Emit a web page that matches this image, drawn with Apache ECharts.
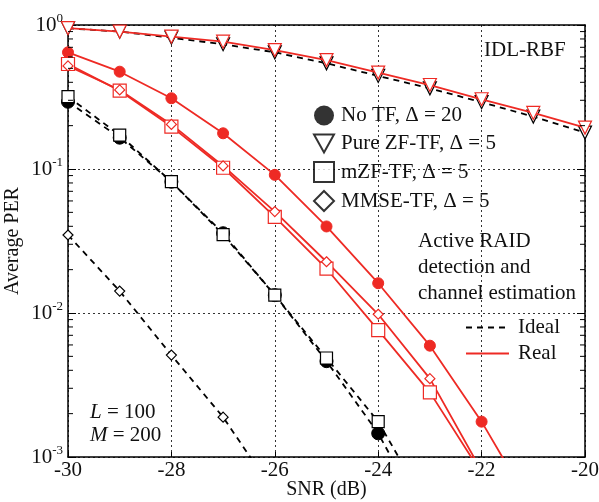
<!DOCTYPE html>
<html>
<head>
<meta charset="utf-8">
<script src="https://cdn.jsdelivr.net/npm/echarts@6/dist/echarts.min.js"></script>
<style>
  html, body { margin: 0; padding: 0; background: #fff; }
  #chart { width: 599px; height: 502px; }
</style>
</head>
<body>
<div id="chart"></div>
<script>
// SNR points (dB)
const snr = [-30, -29, -28, -27, -26, -25, -24, -23, -22, -21, -20];

// Real (estimated channel) curves
const realNoTF   = [0.646, 0.474, 0.310, 0.177, 0.0911, 0.0399, 0.0161, 0.00593, 0.00176, 0.00043];
const realPureZF = [0.95, 0.90, 0.83, 0.766, 0.67, 0.571, 0.467, 0.383, 0.305, 0.245, 0.194];
const realMZF    = [0.536, 0.350, 0.197, 0.102, 0.0465, 0.0203, 0.0076, 0.00281, 0.00077];
const realMMSE   = [0.520, 0.354, 0.204, 0.105, 0.0506, 0.0227, 0.0098, 0.0035, 0.00080];

// Ideal curves
const idealNoTF   = [0.293, 0.165, 0.0816, 0.0358, 0.0133, 0.00463, 0.00146, 0.00032];
const idealPureZF = [0.948, 0.90, 0.816, 0.735, 0.646, 0.542, 0.443, 0.363, 0.291, 0.231, 0.179];
const idealMZF    = [0.318, 0.172, 0.0816, 0.035, 0.0133, 0.00487, 0.00176, 0.00042];
const idealMMSE   = [0.0348, 0.0142, 0.0051, 0.00189, 0.00056];

// minor tick values inside each decade (2..9)
const minorVals = [];
[0.001, 0.01, 0.1].forEach(d => { for (let k = 2; k <= 9; k++) minorVals.push(d * k); });

const legendMarks = ['No TF, Δ = 20', 'Pure ZF-TF, Δ = 5', 'mZF-TF, Δ = 5', 'MMSE-TF, Δ = 5'];
const legendLines = ['Ideal', 'Real'];

const RED = '#ee2a24';
const FONT = '"Liberation Serif", "Times New Roman", serif';
const downTri = 'path://M0,0 L10,0 L5,9 Z';

function pairs(arr) { return arr.map((v, i) => [snr[i], v]); }

function realSeries(data, symbol, filled, size) {
  return {
    type: 'line', data: pairs(data), symbol: symbol, symbolSize: size,
    showAllSymbol: true, clip: true, z: 4,
    lineStyle: { color: RED, width: 1.8 },
    itemStyle: filled ? { color: RED, borderColor: RED }
                      : { color: '#fff', borderColor: RED, borderWidth: 1.2 }
  };
}
function idealSeries(data, symbol, filled, size) {
  return {
    type: 'line', data: pairs(data), symbol: symbol, symbolSize: size,
    showAllSymbol: true, clip: true, z: 3,
    lineStyle: { color: '#000', width: 1.8, type: [6, 5] },
    itemStyle: filled ? { color: '#000', borderColor: '#000' }
                      : { color: '#fff', borderColor: '#000', borderWidth: 1.2 }
  };
}

function supLabel(v) {
  const e = Math.round(Math.log10(v));
  return '{b|10}{s|' + e + '}';
}

const chart = echarts.init(document.getElementById('chart'), null, { renderer: 'canvas' });

const option = {
  animation: false,
  backgroundColor: '#fff',
  textStyle: { fontFamily: FONT },
  grid: { left: 68, right: 14, top: 25, bottom: 45, containLabel: false, outerBoundsMode: 'none' },
  xAxis: [{
    type: 'value', min: -30, max: -20, interval: 2,
    name: 'SNR (dB)', nameLocation: 'middle', nameGap: 23, nameMoveOverlap: false,
    nameTextStyle: { fontFamily: FONT, fontSize: 20, color: '#111' },
    axisLine: { lineStyle: { color: '#000', width: 1.5 } },
    axisTick: { inside: true, length: 5, lineStyle: { color: '#000' } },
    axisLabel: { fontFamily: FONT, fontSize: 21, color: '#111', margin: 3 },
    splitLine: { show: true, lineStyle: { color: '#333', type: [2, 3], width: 1 } }
  }, {
    type: 'value', min: -30, max: -20, interval: 2, position: 'top',
    axisLine: { show: true, lineStyle: { color: '#000', width: 1.5 } },
    axisTick: { show: false }, axisLabel: { show: false }, splitLine: { show: false }
  }],
  yAxis: [{
    type: 'log', logBase: 10, min: 0.001, max: 1,
    name: 'Average PER', nameLocation: 'middle', nameGap: 45, nameMoveOverlap: false,
    nameTextStyle: { fontFamily: FONT, fontSize: 20, color: '#111' },
    axisLine: { show: true, lineStyle: { color: '#000', width: 1.5 } },
    axisTick: { inside: true, length: 8, lineStyle: { color: '#000' } },
    axisLabel: {
      margin: 5, formatter: supLabel,
      rich: {
        b: { fontFamily: FONT, fontSize: 21, color: '#111' },
        s: { fontFamily: FONT, fontSize: 13, color: '#111', padding: [0, 0, 12, 0] }
      }
    },
    splitLine: { show: true, lineStyle: { color: '#333', type: [2, 3], width: 1 } }
  }, {
    type: 'log', logBase: 10, min: 0.001, max: 1, position: 'right',
    axisLine: { show: true, lineStyle: { color: '#000', width: 1.5 } },
    axisTick: { inside: true, length: 8, lineStyle: { color: '#000' } },
    axisLabel: { show: false }, splitLine: { show: false }
  }],
  legend: [{
    data: legendMarks,
    orient: 'vertical', left: 308, top: 100,
    itemWidth: 20, itemHeight: 20, itemGap: 7,
    textStyle: { fontFamily: FONT, fontSize: 21, color: '#111', padding: [0, 0, 0, 2] },
    selectedMode: false
  }, {
    data: legendLines,
    orient: 'vertical', left: 460, top: 312,
    itemWidth: 43, itemHeight: 20, itemGap: 5,
    textStyle: { fontFamily: FONT, fontSize: 21, color: '#111', padding: [0, 0, 0, 4] },
    selectedMode: false
  }],
  graphic: [
    { type: 'text', left: 484, top: 40, style: { text: 'IDL-RBF', font: '21px ' + FONT, fill: '#111' } },
    { type: 'text', left: 418, top: 228, style: { text: 'Active RAID\ndetection and\nchannel estimation', font: '21px ' + FONT, fill: '#111', lineHeight: 26 } },
    { type: 'text', left: 90, top: 401, style: { rich: {
        i: { font: 'italic 21px ' + FONT, fill: '#111' }, n: { font: '21px ' + FONT, fill: '#111' } },
        text: '{i|L}{n| = 100}', lineHeight: 23 } },
    { type: 'text', left: 90, top: 424, style: { rich: {
        i: { font: 'italic 21px ' + FONT, fill: '#111' }, n: { font: '21px ' + FONT, fill: '#111' } },
        text: '{i|M}{n| = 200}', lineHeight: 23 } }
  ],
  series: [
    // minor ticks on the log axes (2..9 within each decade), both sides
    {
      type: 'custom', silent: true, z: 5, clip: false,
      data: minorVals.map(v => [v]),
      renderItem: function (params, api) {
        const v = api.value(0);
        const pl = api.coord([-30, v]);
        const pr = api.coord([-20, v]);
        const st = { stroke: '#000', lineWidth: 1 };
        return { type: 'group', children: [
          { type: 'line', shape: { x1: pl[0], y1: pl[1], x2: pl[0] + 5, y2: pl[1] }, style: st },
          { type: 'line', shape: { x1: pr[0] - 5, y1: pr[1], x2: pr[0], y2: pr[1] }, style: st }
        ] };
      }
    },
    idealSeries(idealPureZF, downTri, false, 13),
    idealSeries(idealNoTF, 'circle', true, 13),
    idealSeries(idealMZF, 'rect', false, 12),
    idealSeries(idealMMSE, 'diamond', false, 10),
    realSeries(realPureZF, downTri, false, 13),
    realSeries(realNoTF, 'circle', true, 11),
    realSeries(realMZF, 'rect', false, 13),
    realSeries(realMMSE, 'diamond', false, 10),
    // legend entries
    { name: legendMarks[0], type: 'scatter', data: [], symbol: 'circle', itemStyle: { color: '#000' } },
    { name: legendMarks[1], type: 'scatter', data: [], symbol: downTri, itemStyle: { color: '#fff', borderColor: '#000', borderWidth: 1.5 } },
    { name: legendMarks[2], type: 'scatter', data: [], symbol: 'rect', itemStyle: { color: '#fff', borderColor: '#000', borderWidth: 1.5 } },
    { name: legendMarks[3], type: 'scatter', data: [], symbol: 'diamond', itemStyle: { color: '#fff', borderColor: '#000', borderWidth: 1.5 } },
    { name: 'Ideal', type: 'line', data: [], symbol: 'none', lineStyle: { color: '#000', width: 1.5, type: [6, 5] }, itemStyle: { color: '#000', opacity: 0 } },
    { name: 'Real', type: 'line', data: [], symbol: 'none', lineStyle: { color: RED, width: 1.8 }, itemStyle: { color: RED, opacity: 0 } }
  ]
};
chart.setOption(option);
</script>
</body>
</html>
